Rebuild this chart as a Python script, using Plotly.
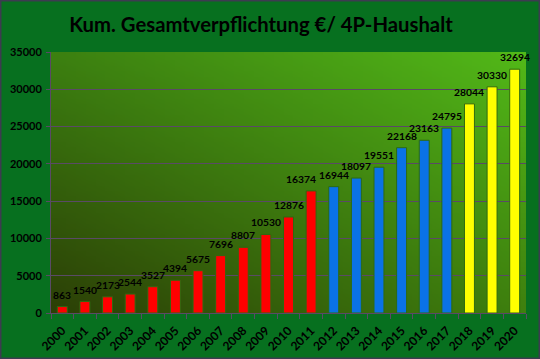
import base64, struct, zlib
import plotly.graph_objects as go

years = [str(y) for y in range(2000, 2021)]
values = [863, 1540, 2173, 2544, 3527, 4394, 5675, 7696, 8807, 10530, 12876,
          16374, 16944, 18097, 19551, 22168, 23163, 24795, 28044, 30330, 32694]
groups = ["red"] * 12 + ["blue"] * 6 + ["yellow"] * 3
group_colors = {"red": "#ff0000", "blue": "#0a72e6", "yellow": "#ffff00"}
title_text = "Kum. Gesamtverpflichtung €/ 4P-Haushalt"
label_xshift = {"2011": -10}

W, H = 540, 359
ML, MR, MT, MB = 51, 14, 52, 46


def make_png(w, h, corners):
    tl, tr, bl, br = corners
    rows = []
    for j in range(h):
        v = j / (h - 1)
        row = bytearray([0])
        for i in range(w):
            u = i / (w - 1)
            for c in range(3):
                top = tl[c] * (1 - u) + tr[c] * u
                bot = bl[c] * (1 - u) + br[c] * u
                row.append(int(round(top * (1 - v) + bot * v)))
        rows.append(bytes(row))
    raw = b"".join(rows)

    def chunk(t, d):
        c = struct.pack(">I", len(d)) + t + d
        return c + struct.pack(">I", zlib.crc32(t + d) & 0xffffffff)

    data = b"\x89PNG\r\n\x1a\n"
    data += chunk(b"IHDR", struct.pack(">IIBBBBB", w, h, 8, 2, 0, 0, 0))
    data += chunk(b"IDAT", zlib.compress(raw, 9))
    data += chunk(b"IEND", b"")
    return "data:image/png;base64," + base64.b64encode(data).decode()


bg_src = make_png(48, 48, [(0x3c, 0x80, 0x10), (0x52, 0xb8, 0x18),
                           (0x2c, 0x40, 0x06), (0x3e, 0x80, 0x0e)])

fig = go.Figure()
fig.add_trace(go.Bar(
    x=years, y=values,
    marker=dict(color=[group_colors[g] for g in groups],
                line=dict(color="#2e6a10", width=1)),
    width=0.44,
))

# category axis: annotation x given as category index
for idx, (yr, val) in enumerate(zip(years, values)):
    fig.add_annotation(x=idx, y=val, xref="x", yref="y", text=str(val),
                       showarrow=False, yanchor="bottom", xanchor="center",
                       yshift=4, xshift=label_xshift.get(yr, 0),
                       font=dict(family="Lato", size=10.3, color="#000000", weight="bold"))

pw = W - ML - MR
ph = H - MT - MB
fig.add_layout_image(dict(source=bg_src, xref="paper", yref="paper", x=0, y=1,
                          sizex=1, sizey=1, sizing="stretch", layer="below",
                          xanchor="left", yanchor="top"))
fig.add_shape(type="rect", xref="paper", yref="paper",
              x0=-ML / pw + 0.5 / pw, x1=1 + MR / pw - 0.5 / pw,
              y0=-MB / ph + 0.5 / ph, y1=1 + MT / ph - 0.5 / ph,
              line=dict(color="#3c3c50", width=2), layer="above")

fig.update_layout(
    width=W, height=H,
    margin=dict(l=ML, r=MR, t=MT, b=MB, pad=0),
    paper_bgcolor="#07701f", plot_bgcolor="rgba(0,0,0,0)",
    showlegend=False,
    title=dict(text=title_text, x=261 / W, xref="container", xanchor="center",
               y=1 - 25 / H, yref="container", yanchor="middle",
               font=dict(family="Lato", size=20.3, color="#000000", weight="bold")),
    bargap=0.56,
)
fig.update_xaxes(type="category", tickangle=-45, tickson="boundaries",
                 range=[-0.5, len(years) - 0.5],
                 ticks="outside", ticklen=5, tickcolor="#5a4a66",
                 ticklabelstandoff=5, automargin=False,
                 showline=True, linecolor="#5a4a66", linewidth=1,
                 showgrid=False,
                 tickfont=dict(family="Lato", size=12, color="#000000", weight="bold"))
fig.update_yaxes(range=[0, 35000], dtick=5000, tick0=0, tickformat="d",
                 ticks="outside", ticklen=4, tickcolor="#5a4a66",
                 ticklabelstandoff=2, automargin=False,
                 showline=True, linecolor="#5a4a66", linewidth=1,
                 showgrid=True, gridcolor="#5a4a66", gridwidth=1,
                 zeroline=False,
                 tickfont=dict(family="Lato", size=11, color="#000000", weight="bold"))

fig.write_html("out.html")
